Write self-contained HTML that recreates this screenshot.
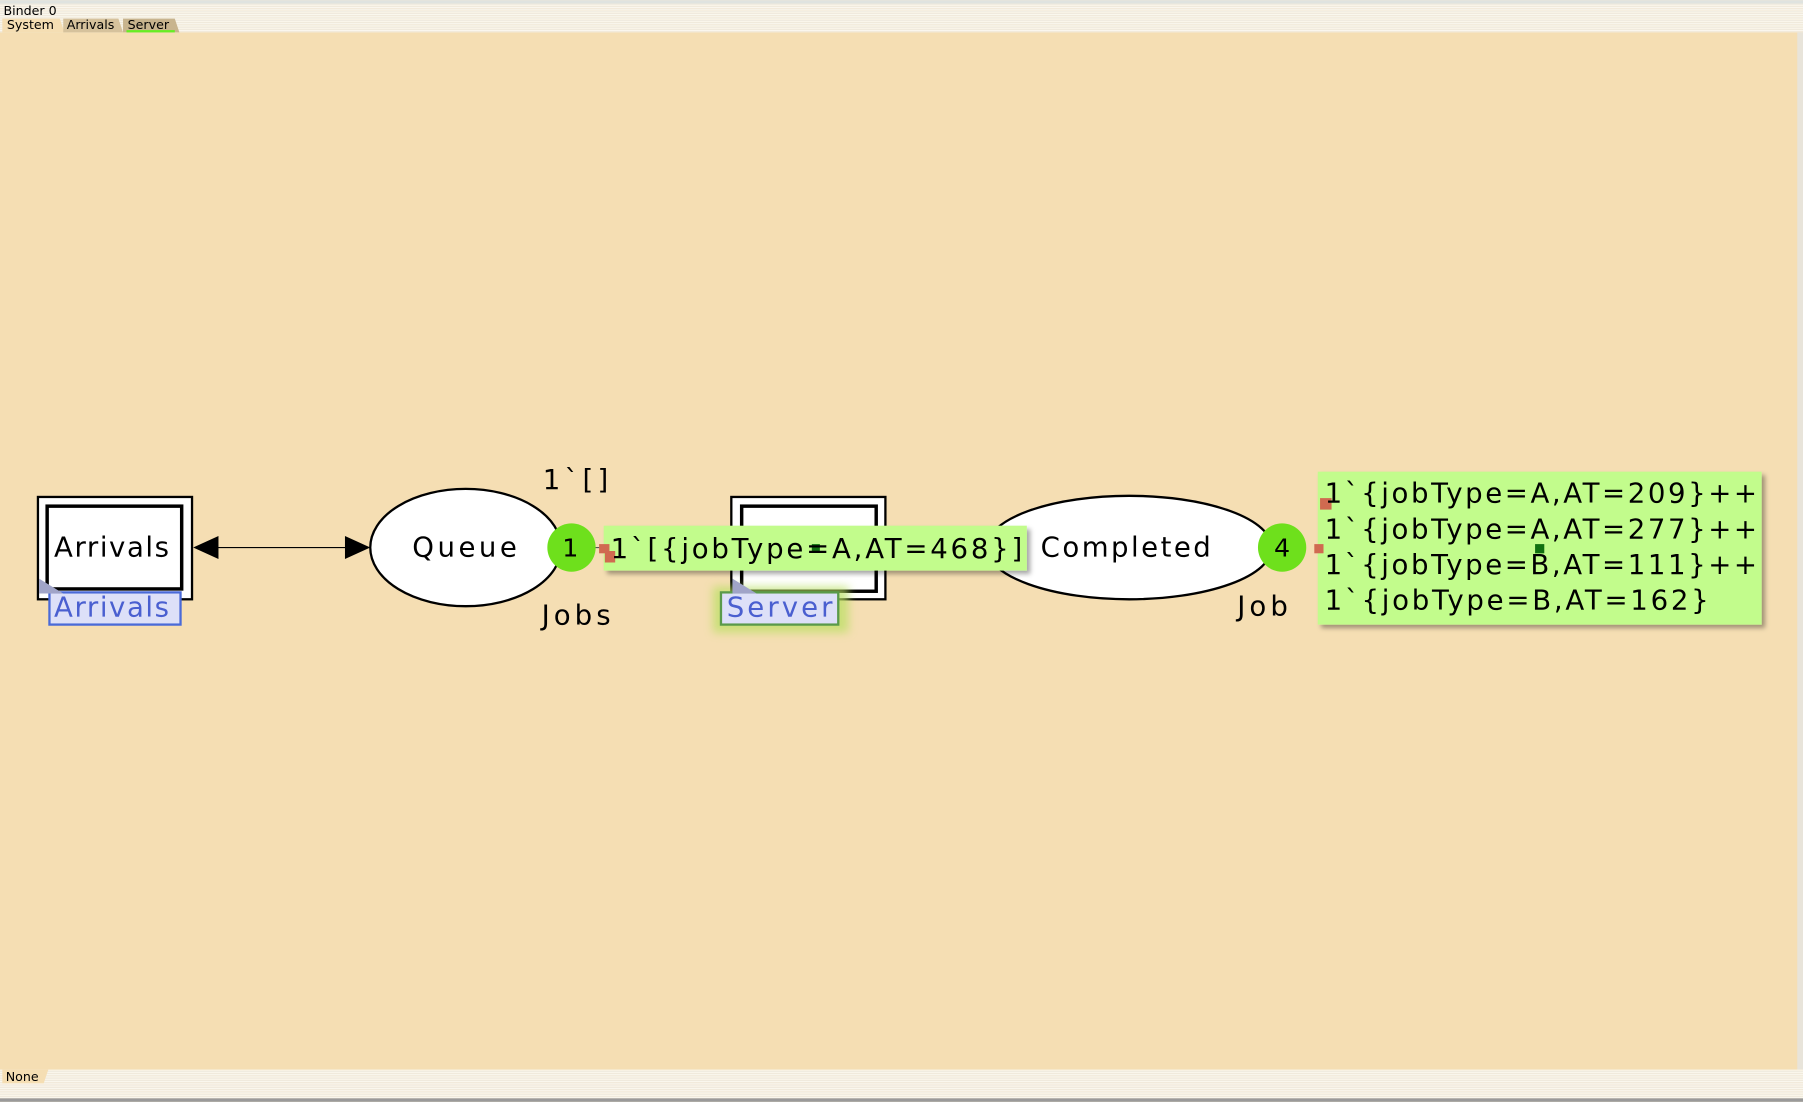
<!DOCTYPE html>
<html><head><meta charset="utf-8"><style>
html,body{margin:0;padding:0;width:1803px;height:1102px;overflow:hidden;background:#f5deb3}
svg{display:block}
text{font-family:"DejaVu Sans","Liberation Sans",sans-serif}
</style></head><body>
<svg width="1803" height="1102" viewBox="0 0 1568 958" xmlns="http://www.w3.org/2000/svg">
<defs>
<pattern id="st" width="4" height="2" patternUnits="userSpaceOnUse"><rect width="4" height="1" fill="#fbf8ef"/><rect y="1" width="4" height="1" fill="#efeade"/></pattern>
<filter id="sh" x="-10%" y="-20%" width="130%" height="150%"><feDropShadow dx="3" dy="3" stdDeviation="2" flood-color="#000" flood-opacity="0.35"/></filter>
<filter id="gl" x="-30%" y="-60%" width="160%" height="220%"><feGaussianBlur stdDeviation="4"/></filter>
</defs>
<rect width="1568" height="958" fill="#f5deb3"/>
<rect width="1568" height="28" fill="url(#st)"/>
<rect y="0" width="1568" height="3" fill="#dfe3e0"/>
<text x="3" y="13" font-size="11" fill="#000">Binder 0</text>
<path d="M2 28 L2 16 L52 16 L56 28 Z" fill="#f5deb3"/>
<path d="M55 28 L55 16 L103 16 L107 28 Z" fill="#d6c29c"/>
<path d="M107 28 L107 16 L152 16 L156 28 Z" fill="#c8b48e"/>
<rect x="110" y="26" width="42" height="2" fill="#66ee22"/>
<text x="6" y="25" font-size="11">System</text>
<text x="58" y="25" font-size="11">Arrivals</text>
<text x="111" y="25" font-size="11">Server</text>
<rect x="1563" y="28" width="5" height="902" fill="#e8e4da"/>
<rect y="930" width="1568" height="28" fill="url(#st)"/>
<path d="M2 930 L2 942 L38 942 L42 930 Z" fill="#f5deb3"/>
<text x="5" y="940" font-size="11">None</text>
<rect y="955" width="1568" height="3" fill="#9a9a9a"/>

<!-- Arrivals transition -->
<rect x="33" y="432" width="134" height="89" fill="#fff" stroke="#000" stroke-width="2"/>
<rect x="41" y="440" width="117" height="72" fill="#fff" stroke="#000" stroke-width="3"/>
<text x="97" y="484" font-size="24" text-anchor="middle" textLength="100">Arrivals</text>
<rect x="43" y="515" width="114" height="28" fill="#dde0f8" stroke="#4a6ad8" stroke-width="2"/>
<path d="M34 503 L34 516 L55 516 Z" fill="#a0a4c8"/>
<text x="97" y="536" font-size="24" fill="#4a5fd0" text-anchor="middle" textLength="100">Arrivals</text>

<!-- arc -->
<line x1="188" y1="476" x2="302" y2="476" stroke="#000" stroke-width="1"/>
<path d="M168 476 L190 466 L190 486 Z" fill="#000"/>
<path d="M322 476 L300 466 L300 486 Z" fill="#000"/>

<!-- Queue -->
<ellipse cx="405" cy="476" rx="83" ry="51" fill="#fff" stroke="#000" stroke-width="2"/>
<text x="404" y="484" font-size="24" text-anchor="middle" textLength="91">Queue</text>
<text x="472" y="425" font-size="24" textLength="57">1`[]</text>
<text x="471" y="543" font-size="24" textLength="60">Jobs</text>

<!-- Server transition -->
<rect x="636" y="432" width="134" height="89" fill="#fff" stroke="#000" stroke-width="2"/>
<rect x="645" y="440" width="117" height="74" fill="#fff" stroke="#000" stroke-width="3"/>
<rect x="620" y="510" width="118" height="40" fill="#b8e060" opacity="0.7" filter="url(#gl)"/>
<rect x="627" y="515" width="102" height="28" fill="#dde0f8" stroke="#5a9a4a" stroke-width="2"/>
<path d="M637 503 L637 516 L658 516 Z" fill="#a0a4c8"/>
<text x="678" y="536" font-size="24" fill="#4a5fd0" text-anchor="middle" textLength="92">Server</text>

<!-- Completed -->
<ellipse cx="982" cy="476" rx="124" ry="45" fill="#fff" stroke="#000" stroke-width="2"/>
<text x="979" y="484" font-size="24" text-anchor="middle" textLength="148">Completed</text>
<text x="1076" y="535" font-size="24" textLength="44">Job</text>

<!-- token 1 -->
<line x1="510" y1="476" x2="530" y2="476" stroke="#555" stroke-width="1"/>
<circle cx="497" cy="476" r="21" fill="#6ee01c"/>
<text x="496" y="484" font-size="22" text-anchor="middle">1</text>
<rect x="525" y="457" width="368" height="39" fill="#c2fc8c" filter="url(#sh)"/>
<rect x="521" y="473" width="9" height="8" fill="#d06a50"/>
<rect x="526" y="479" width="9" height="10" fill="#d06a50"/>
<rect x="706" y="473" width="7" height="6" fill="#107010"/>
<text x="531" y="485" font-size="24" textLength="358">1`[{jobType=A,AT=468}]</text>

<!-- token 4 -->
<circle cx="1115" cy="476" r="21" fill="#6ee01c"/>
<text x="1115" y="484" font-size="22" text-anchor="middle">4</text>
<rect x="1146" y="410" width="386" height="133" fill="#c2fc8c" filter="url(#sh)"/>
<rect x="1148" y="433" width="10" height="10" fill="#d06a50"/>
<rect x="1143" y="473" width="8" height="8" fill="#d06a50"/>
<rect x="1335" y="473" width="8" height="8" fill="#107010"/>
<g font-size="24">
<text x="1152" y="437" textLength="376">1`{jobType=A,AT=209}++</text>
<text x="1152" y="468" textLength="376">1`{jobType=A,AT=277}++</text>
<text x="1152" y="499" textLength="376">1`{jobType=B,AT=111}++</text>
<text x="1152" y="530" textLength="334">1`{jobType=B,AT=162}</text>
</g>
</svg>
</body></html>
